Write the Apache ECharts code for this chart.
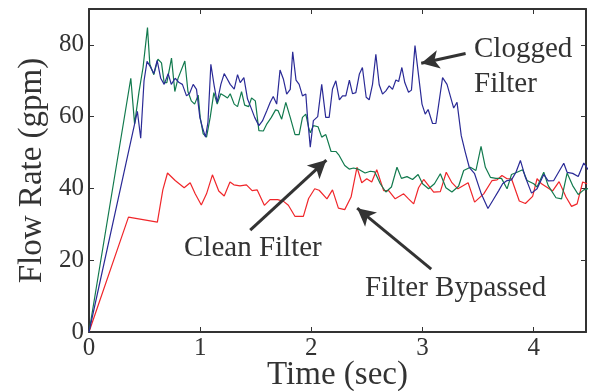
<!DOCTYPE html>
<html><head><meta charset="utf-8">
<script src="https://cdn.jsdelivr.net/npm/echarts@6/dist/echarts.min.js"></script>
<style>html,body{margin:0;padding:0;background:#fff}#c{width:589px;height:391px}</style>
</head><body><div id="c"></div>
<script>
const xTicks = [0, 1, 2, 3, 4];
const yTicks = [0, 20, 40, 60, 80];

const cloggedT = [0,0.435,0.465,0.495,0.522,0.55,0.583,0.613,0.645,0.676,0.712,0.74,0.775,0.81,0.84,0.877,0.905,0.937,0.967,0.997,1.02,1.048,1.07,1.096,1.126,1.153,1.186,1.216,1.24,1.27,1.306,1.336,1.36,1.393,1.426,1.462,1.49,1.528,1.56,1.6,1.63,1.657,1.688,1.718,1.748,1.778,1.81,1.832,1.862,1.89,1.92,1.95,1.965,1.99,2.018,2.057,2.093,2.129,2.16,2.19,2.22,2.252,2.28,2.31,2.342,2.37,2.40,2.432,2.459,2.493,2.52,2.55,2.58,2.61,2.64,2.67,2.70,2.73,2.76,2.785,2.814,2.84,2.874,2.90,2.932,2.995,3.024,3.05,3.09,3.12,3.18,3.22,3.28,3.31,3.348,3.384,3.42,3.468,3.528,3.588,3.633,3.685,3.72,3.76,3.8,3.84,3.88,3.925,3.98,4.03,4.09,4.13,4.18,4.27,4.30,4.35,4.40,4.45,4.49];
const cloggedV = [0,61.5,54,70,75.4,74,72,75.7,70.7,69,72,69,70.7,69.5,69,65.8,66.5,69,67.6,59.8,57,54.3,58.5,74.6,68.6,64,69,72,70.7,69,67.7,71.7,69.5,70.9,64.9,62.1,59.8,57.5,58.8,61.7,64,65.6,63.5,73,70.5,66.3,67.6,78.1,70.2,69,65.8,66.3,60,51.5,58.9,60,69,59.8,59.8,67.7,70,64.7,65.8,65.8,70.2,66.4,66.7,71.9,73.7,65.4,64.7,69,77.4,68.9,66.3,67.2,68.6,67.6,70.2,69.8,73.7,69.5,66.8,67.4,79.8,63.5,60.7,62,58.1,58.1,70.9,69,62.4,64,54.7,50.1,45.9,44.1,38.5,34.4,36.7,39.4,41.3,42.2,42.4,44.5,47.8,43.1,38.7,39.9,43.9,42.1,42.2,47,44.5,44.2,43.3,47.1,45.2];

const cleanT = [0,0.376,0.41,0.45,0.486,0.526,0.547,0.583,0.62,0.652,0.676,0.70,0.742,0.772,0.80,0.862,0.89,0.92,0.95,0.982,1.0,1.027,1.057,1.09,1.123,1.153,1.185,1.216,1.246,1.27,1.306,1.336,1.372,1.40,1.436,1.462,1.496,1.528,1.568,1.6,1.64,1.678,1.70,1.733,1.77,1.81,1.853,1.89,1.92,1.95,1.975,1.99,2.018,2.06,2.093,2.13,2.177,2.22,2.25,2.30,2.34,2.38,2.42,2.483,2.53,2.57,2.62,2.67,2.72,2.77,2.81,2.86,2.91,2.96,3.0,3.054,3.107,3.16,3.21,3.264,3.324,3.37,3.43,3.48,3.526,3.565,3.61,3.66,3.71,3.76,3.80,3.85,3.90,3.94,4.0,4.03,4.09,4.13,4.20,4.25,4.30,4.35,4.40,4.45,4.49];
const cleanV = [0,70.7,58,67,73.7,84.8,74.6,71.7,76,75,69.5,69.5,76.3,67,70.6,75.5,67,64.4,63.5,66,59.8,55.2,54.3,59.8,66.7,63.5,66.4,65.8,65.2,66.4,63.5,62.8,67,63.2,62.8,65.2,64.4,56.1,56,58,59.8,61.9,61.7,59.3,64,59.8,55,55,59.8,60.7,57,55.5,57.5,57.2,54.3,55,50.3,50.3,49.2,46.4,45.4,45.7,45.4,44.3,44.8,44.6,41.3,39,40.4,45.9,42.8,43.3,42.5,43.9,41.3,39.9,41.3,44.1,40.2,39,40.6,45,45.9,45,51.7,45.9,43.1,42.8,42.8,39.9,43.9,44.5,45.2,42.2,41.3,40.4,44.5,40.8,37.4,37.1,44.3,40.8,38.3,39.6,40];

const bypassT = [0,0.355,0.615,0.664,0.706,0.775,0.856,0.91,0.955,1.01,1.057,1.11,1.167,1.216,1.268,1.303,1.358,1.416,1.467,1.513,1.577,1.628,1.697,1.75,1.793,1.853,1.928,1.975,2.03,2.07,2.14,2.19,2.243,2.30,2.357,2.41,2.453,2.498,2.543,2.588,2.65,2.695,2.754,2.83,2.874,2.92,2.964,3.01,3.10,3.16,3.213,3.264,3.318,3.41,3.468,3.55,3.625,3.67,3.714,3.76,3.8,3.87,3.925,3.99,4.03,4.07,4.17,4.228,4.29,4.34,4.39,4.44,4.48];
const bypassV = [0,32,30.6,39.6,44.3,42.2,40.2,41.6,38.5,35.4,38.5,43.8,39.3,37.9,41.8,41,40.7,41,39.4,39.6,35.3,36.9,36.9,36.4,35.3,32.2,32.2,37.2,39.9,39.5,37.1,39.6,34.5,34.1,37.6,45.9,41.6,42.7,41.8,45.2,39.4,39.4,37.1,38.5,37.1,35.7,40.2,42.5,39,39.1,44.5,41.6,39.9,41.6,36.2,38.5,42.2,42.4,43.6,42.7,42.7,36.5,35.8,37.8,42.7,41.3,39.3,41.9,37.6,35,35.7,41.8,41.3];

// annotation arrows: [tailT, tailV, tipT, tipV]
const arrowClogged = [3.387, 77.6, 2.988, 74.9];
const arrowClean = [1.450, 28.4, 2.135, 47.9];
const arrowBypass = [3.078, 17.5, 2.412, 34.5];

const zip = (t, v) => t.map((x, i) => [x, v[i]]);
const FONT = "Liberation Serif";
const TXT = '#333';
const mkArrow = a => [{coord: [a[0], a[1]], symbol: 'none'}, {coord: [a[2], a[3]], symbol: 'arrow'}];
const note = (text, left, top) => ({text, left, top, padding: 0, itemGap: 0,
  textStyle: {fontFamily: FONT, fontSize: 29, fontWeight: 'normal', color: TXT, lineHeight: 35}});

const axisCommon = {
  axisLine: {show: true, onZero: false, lineStyle: {color: '#333', width: 2}},
  axisTick: {show: true, inside: true, length: 5, lineStyle: {color: '#333', width: 1}},
  splitLine: {show: false}
};

const chart = echarts.init(document.getElementById('c'), null, {renderer: 'canvas'});
chart.setOption({
  animation: false,
  backgroundColor: '#fff',
  title: [
    note('Clogged\nFilter', 474, 32),
    note('Clean Filter', 184, 231),
    note('Filter Bypassed', 365, 271)
  ],
  grid: {left: 89, right: 3, top: 9, bottom: 59, containLabel: false, outerBoundsMode: 'none'},
  xAxis: [
    Object.assign({}, axisCommon, {
      type: 'value', min: 0, max: 4.47, interval: 1,
      name: 'Time (sec)', nameLocation: 'middle', nameGap: 27, nameMoveOverlap: false,
      nameTextStyle: {fontFamily: FONT, fontSize: 33, color: TXT},
      axisLabel: {margin: 4, fontFamily: FONT, fontSize: 25, color: TXT,
        formatter: v => xTicks.includes(v) ? String(v) : ''}
    }),
    Object.assign({}, axisCommon, {
      type: 'value', min: 0, max: 4.47, interval: 1, position: 'top',
      axisLabel: {show: false}
    })
  ],
  yAxis: [
    Object.assign({}, axisCommon, {
      type: 'value', min: 0, max: 90, interval: 20,
      name: 'Flow Rate (gpm)', nameLocation: 'middle', nameGap: 40, nameRotate: 90, nameMoveOverlap: false,
      nameTextStyle: {fontFamily: FONT, fontSize: 33, color: TXT},
      axisLabel: {margin: 5, fontFamily: FONT, fontSize: 25, color: TXT,
        formatter: v => yTicks.includes(v) ? String(v) : ''}
    }),
    Object.assign({}, axisCommon, {
      type: 'value', min: 0, max: 90, interval: 20, position: 'right',
      axisLabel: {show: false}
    })
  ],
  series: [
    {type: 'line', name: 'Filter Bypassed', data: zip(bypassT, bypassV), showSymbol: false,
      lineStyle: {color: '#f0262a', width: 1.2}, itemStyle: {color: '#f0262a'}},
    {type: 'line', name: 'Clean Filter', data: zip(cleanT, cleanV), showSymbol: false,
      lineStyle: {color: '#127a4e', width: 1.2}, itemStyle: {color: '#127a4e'}},
    {type: 'line', name: 'Clogged Filter', data: zip(cloggedT, cloggedV), showSymbol: false,
      lineStyle: {color: '#2a2a96', width: 1.2}, itemStyle: {color: '#2a2a96'},
      markLine: {silent: true, animation: false, symbolSize: [14, 18],
        label: {show: false}, emphasis: {disabled: true},
        lineStyle: {color: '#333', width: 3, type: 'solid'},
        data: [mkArrow(arrowClogged), mkArrow(arrowClean), mkArrow(arrowBypass)]}}
  ]
});
</script></body></html>
